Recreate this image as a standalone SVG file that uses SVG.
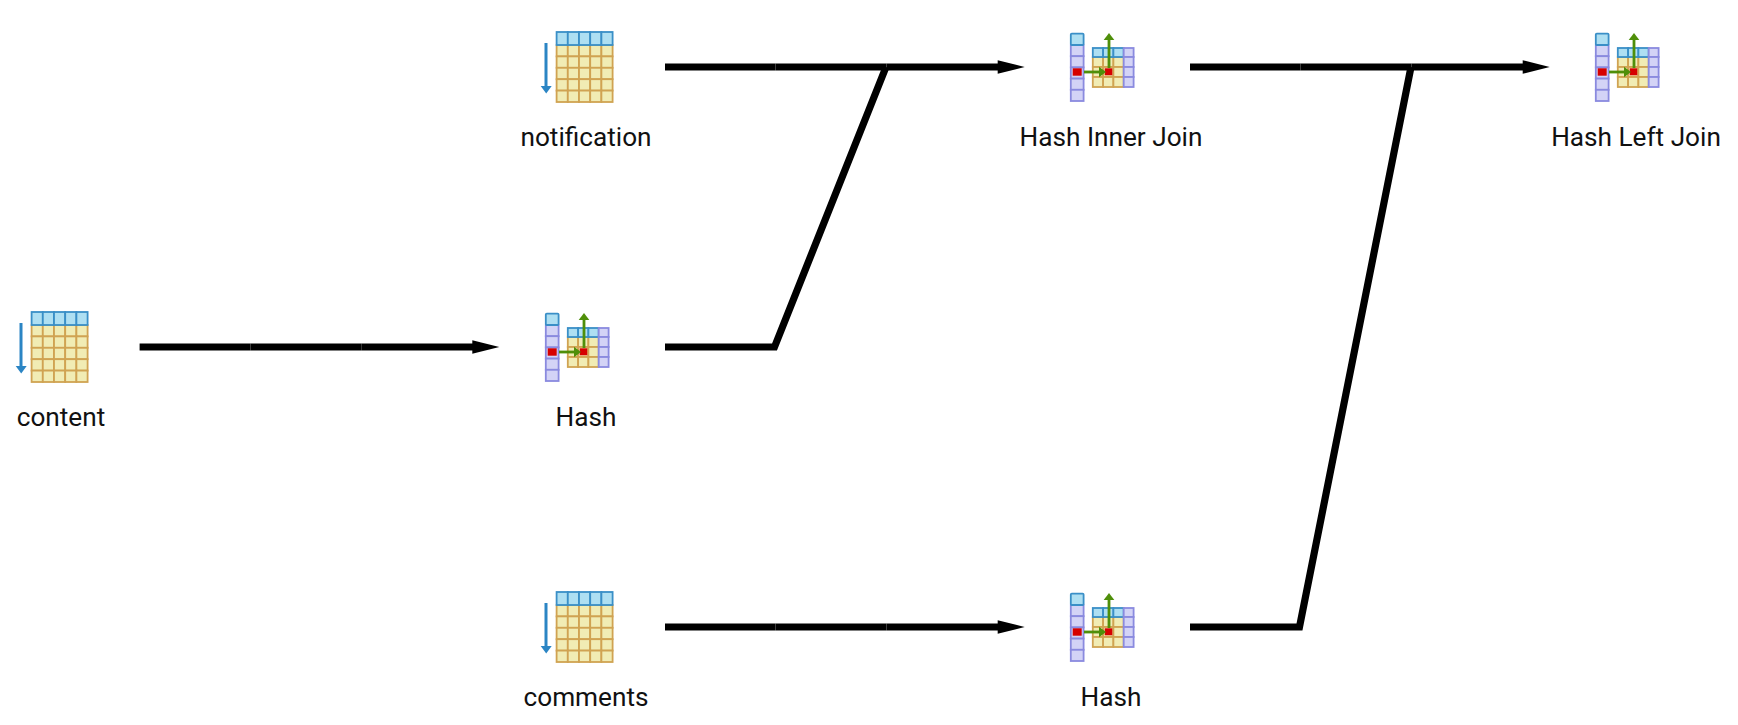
<svg xmlns="http://www.w3.org/2000/svg" width="1738" height="725" viewBox="0 0 1738 725">
<style>
.lbl{font-family:Roboto,"Liberation Sans",sans-serif;font-size:26.2px;fill:#111;text-anchor:middle}
.c{stroke:#000;stroke-width:7.2;fill:none;stroke-linecap:butt}
.h{fill:#aedff2;stroke:#3a8fc7;stroke-width:1.8}
.t{fill:#f1ecb4;stroke:#d0a352;stroke-width:1.8}
.p{fill:#d3d3f6;stroke:#8a8adf;stroke-width:1.8}
.r{fill:#d60000}
.g{stroke:#4f8f0a;stroke-width:2.8;fill:none}
.gh{fill:#4f8f0a}
</style>
<defs>
<g id="scan">
<path d="M546 43V88" stroke="#2b85c4" stroke-width="3" fill="none"/>
<path d="M540.7 86H551.7L546.2 93.5Z" fill="#2b85c4"/>
<g class="t">
<rect x="556.6" y="45" width="11.2" height="11.4"/><rect x="567.8" y="45" width="11.2" height="11.4"/><rect x="579" y="45" width="11.2" height="11.4"/><rect x="590.2" y="45" width="11.2" height="11.4"/><rect x="601.4" y="45" width="11.2" height="11.4"/>
<rect x="556.6" y="56.4" width="11.2" height="11.4"/><rect x="567.8" y="56.4" width="11.2" height="11.4"/><rect x="579" y="56.4" width="11.2" height="11.4"/><rect x="590.2" y="56.4" width="11.2" height="11.4"/><rect x="601.4" y="56.4" width="11.2" height="11.4"/>
<rect x="556.6" y="67.8" width="11.2" height="11.4"/><rect x="567.8" y="67.8" width="11.2" height="11.4"/><rect x="579" y="67.8" width="11.2" height="11.4"/><rect x="590.2" y="67.8" width="11.2" height="11.4"/><rect x="601.4" y="67.8" width="11.2" height="11.4"/>
<rect x="556.6" y="79.2" width="11.2" height="11.4"/><rect x="567.8" y="79.2" width="11.2" height="11.4"/><rect x="579" y="79.2" width="11.2" height="11.4"/><rect x="590.2" y="79.2" width="11.2" height="11.4"/><rect x="601.4" y="79.2" width="11.2" height="11.4"/>
<rect x="556.6" y="90.6" width="11.2" height="11.4"/><rect x="567.8" y="90.6" width="11.2" height="11.4"/><rect x="579" y="90.6" width="11.2" height="11.4"/><rect x="590.2" y="90.6" width="11.2" height="11.4"/><rect x="601.4" y="90.6" width="11.2" height="11.4"/>
</g>
<g class="h">
<rect x="556.6" y="32" width="11.2" height="13"/><rect x="567.8" y="32" width="11.2" height="13"/><rect x="579" y="32" width="11.2" height="13"/><rect x="590.2" y="32" width="11.2" height="13"/><rect x="601.4" y="32" width="11.2" height="13"/>
</g>
</g>
<g id="hash">
<g class="p">
<rect x="545.8" y="325" width="12.8" height="11.2"/><rect x="545.8" y="336.2" width="12.8" height="11.2"/><rect x="545.8" y="347.4" width="12.8" height="11.2"/><rect x="545.8" y="358.6" width="12.8" height="11.2"/><rect x="545.8" y="369.8" width="12.8" height="11.2"/>
</g>
<rect class="h" x="545.8" y="313.6" width="12.8" height="11.4" rx="1"/>
<rect class="r" x="547.7" y="348.3" width="9" height="7.4"/>
<g class="t">
<rect x="567.8" y="337" width="10.3" height="10"/><rect x="578.1" y="337" width="10.3" height="10"/><rect x="588.4" y="337" width="10.3" height="10"/>
<rect x="567.8" y="347" width="10.3" height="10"/><rect x="578.1" y="347" width="10.3" height="10"/><rect x="588.4" y="347" width="10.3" height="10"/>
<rect x="567.8" y="357" width="10.3" height="10"/><rect x="578.1" y="357" width="10.3" height="10"/><rect x="588.4" y="357" width="10.3" height="10"/>
</g>
<g class="h">
<rect x="567.8" y="328" width="10.3" height="9"/><rect x="578.1" y="328" width="10.3" height="9"/><rect x="588.4" y="328" width="10.3" height="9"/>
</g>
<g class="p">
<rect x="598.7" y="328" width="9.9" height="9"/><rect x="598.7" y="337" width="9.9" height="10"/><rect x="598.7" y="347" width="9.9" height="10"/><rect x="598.7" y="357" width="9.9" height="10"/>
</g>
<rect class="r" x="579.7" y="348.3" width="7.6" height="7"/>
<path class="g" d="M559 352H576"/>
<path class="gh" d="M574 346.7L581 352L574 357.3Z"/>
<path class="g" d="M584 348V318"/>
<path class="gh" d="M578.7 320L584 313L589.3 320Z"/>
</g>
<path id="ah" d="M0 -6.7L27 0L0 6.7Z" fill="#000"/>
</defs>
<g id="connectors">
<g id="e-content-hash"><line class="c" x1="139.6" y1="347" x2="250.5" y2="347"/><line class="c" x1="250.5" y1="347" x2="361.3" y2="347"/><line class="c" x1="361.3" y1="347" x2="473" y2="347"/><use href="#ah" x="472.3" y="347"/></g>
<g id="e-notification-join"><line class="c" x1="665" y1="67" x2="775.5" y2="67"/><line class="c" x1="775.5" y1="67" x2="886.5" y2="67"/><line class="c" x1="886.5" y1="67" x2="998" y2="67"/><use href="#ah" x="997.7" y="67"/></g>
<g id="e-hash-join"><path class="c" d="M665 347H774.5L886 67"/></g>
<g id="e-comments-hash"><line class="c" x1="665" y1="627" x2="775.5" y2="627"/><line class="c" x1="775.5" y1="627" x2="886.5" y2="627"/><line class="c" x1="886.5" y1="627" x2="998" y2="627"/><use href="#ah" x="997.7" y="627"/></g>
<g id="e-join-left"><line class="c" x1="1190" y1="67" x2="1300.5" y2="67"/><line class="c" x1="1300.5" y1="67" x2="1411.5" y2="67"/><line class="c" x1="1411.5" y1="67" x2="1523" y2="67"/><use href="#ah" x="1522.7" y="67"/></g>
<g id="e-hash2-left"><path class="c" d="M1190 627H1299.5L1411 67"/></g>
</g>
<g id="node-content"><use href="#scan" x="-525" y="280"/><text class="lbl" x="61" y="426">content</text></g>
<g id="node-notification"><use href="#scan"/><text class="lbl" x="586" y="146">notification</text></g>
<g id="node-comments"><use href="#scan" y="560"/><text class="lbl" x="586" y="706">comments</text></g>
<g id="node-hash1"><use href="#hash"/><text class="lbl" x="586" y="426">Hash</text></g>
<g id="node-inner-join"><use href="#hash" x="525" y="-280"/><text class="lbl" x="1111" y="146">Hash Inner Join</text></g>
<g id="node-hash2"><use href="#hash" x="525" y="280"/><text class="lbl" x="1111" y="706">Hash</text></g>
<g id="node-left-join"><use href="#hash" x="1050" y="-280"/><text class="lbl" x="1636" y="146">Hash Left Join</text></g>
</svg>
